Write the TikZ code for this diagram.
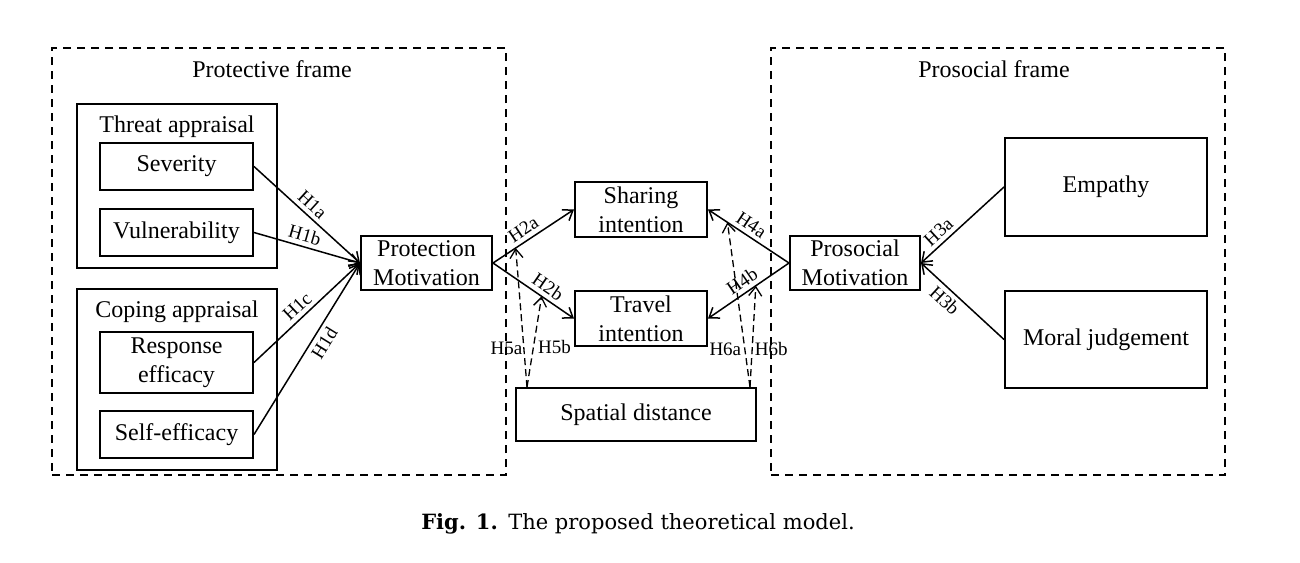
\documentclass[tikz,border=0pt]{standalone}
\usepackage{fontspec}
\setmainfont{Liberation Serif}
\newfontfamily\capfont{DejaVu Serif}
\usetikzlibrary{arrows.meta,calc}
\begin{document}
\begin{tikzpicture}[x=1pt,y=-1pt,
  box/.style={draw, line width=2pt, inner sep=0pt, align=center, font=\fontsize{24}{29}\selectfont},
  frm/.style={draw, line width=2pt, dash pattern=on 8pt off 6pt, inner sep=0pt},
  arr/.style={line width=1.5pt, -{Straight Barb[length=9pt,width=13pt]}},
  arrl/.style={line width=1.5pt, {Straight Barb[length=9pt,width=13pt]}-},
  darr/.style={line width=1.3pt, dash pattern=on 7pt off 4pt, -{Straight Barb[length=9pt,width=13pt]}},
  lbl/.style={font=\fontsize{19}{21}\selectfont, inner sep=4pt},
  ttl/.style={font=\fontsize{24}{29}\selectfont, inner sep=0pt},
]
\useasboundingbox (0,0) rectangle (1300,562);

% frames
\node[frm, minimum width=454pt, minimum height=427pt] (pframe) at (279,261.5) {};
\node[frm, minimum width=454pt, minimum height=427pt] (sframe) at (998,261.5) {};
\node[ttl] (ptitle) at (272,69) {Protective frame};
\node[ttl] (stitle) at (994,69) {Prosocial frame};

% appraisal groups
\node[box, minimum width=200pt, minimum height=164pt] (threat) at (177,186) {};
\node[ttl] (threatlbl) at (177,127) {Threat appraisal};
\node[box, minimum width=200pt, minimum height=181pt] (coping) at (177,379.5) {};
\node[ttl] (copinglbl) at (177,312) {Coping appraisal};

\node[box, minimum width=153pt, minimum height=47pt] (sev) at (176.5,166.5) {Severity};
\node[box, minimum width=153pt, minimum height=47pt] (vul) at (176.5,232.5) {Vulnerability};
\node[box, minimum width=153pt, minimum height=61pt] (resp) at (176.5,362.5) {Response\\efficacy};
\node[box, minimum width=153pt, minimum height=47pt] (self) at (176.5,434.5) {Self-efficacy};

\node[box, minimum width=131pt, minimum height=54pt] (pm) at (426.5,263) {Protection\\Motivation};
\node[box, minimum width=132pt, minimum height=55pt] (sh) at (641,209.5) {Sharing\\intention};
\node[box, minimum width=132pt, minimum height=55pt] (tr) at (641,318.5) {Travel\\intention};
\node[box, minimum width=240pt, minimum height=53pt] (sd) at (636,414.5) {Spatial distance};
\node[box, minimum width=130pt, minimum height=54pt] (pro) at (855,263) {Prosocial\\Motivation};
\node[box, minimum width=202pt, minimum height=98pt] (emp) at (1106,187) {Empathy};
\node[box, minimum width=202pt, minimum height=97pt] (mor) at (1106,339.5) {Moral judgement};

% H1
\draw[arr] (sev.east) -- node[lbl, sloped, above, pos=0.48] {H1a} (pm.west);
\draw[arr] (vul.east) -- node[lbl, sloped, above, pos=0.45] {H1b} (pm.west);
\draw[arr] (resp.east) -- node[lbl, sloped, above, pos=0.48] {H1c} (pm.west);
\draw[arr] (self.east) -- node[lbl, sloped, below, pos=0.57] {H1d} (pm.west);

% H2
\draw[arr] (pm.east) -- node[lbl, sloped, above, pos=0.45] {H2a} (sh.west);
\draw[arr] (pm.east) -- node[lbl, sloped, above, pos=0.6] {H2b} (tr.west);

% H4
\draw[arrl] (sh.east) -- node[lbl, sloped, above, pos=0.46] {H4a} (pro.west);
\draw[arrl] (tr.east) -- node[lbl, sloped, above, pos=0.5] {H4b} (pro.west);

% H3
\draw[arrl] (pro.east) -- node[lbl, sloped, above, pos=0.3] {H3a} (emp.west);
\draw[arrl] (pro.east) -- node[lbl, sloped, below, pos=0.38] {H3b} (mor.west);

% moderation
\coordinate (t5a) at ($(pm.east)!0.28!(sh.west)$);
\coordinate (t5b) at ($(pm.east)!0.6!(tr.west)$);
\coordinate (t6a) at ($(sh.east)!0.24!(pro.west)$);
\coordinate (t6b) at ($(tr.east)!0.59!(pro.west)$);
\coordinate (s5) at ([xshift=12pt]sd.north west);
\coordinate (s6) at ([xshift=-7pt]sd.north east);
\draw[darr] (s5) -- node[lbl, pos=0.28, left, inner sep=1pt] {H5a} (t5a);
\draw[darr] (s5) -- node[lbl, pos=0.44, right, inner sep=4pt] {H5b} (t5b);
\draw[darr] (s6) -- node[lbl, pos=0.23, left, inner sep=3pt] {H6a} (t6a);
\draw[darr] (s6) -- node[lbl, pos=0.38, right, inner sep=2pt] {H6b} (t6b);

% caption
\node[font=\capfont\fontsize{21}{25}\selectfont, anchor=base, inner sep=0pt] (cap) at (638,529) {\textbf{Fig. 1.}\enspace The proposed theoretical model.};
\end{tikzpicture}
\end{document}
